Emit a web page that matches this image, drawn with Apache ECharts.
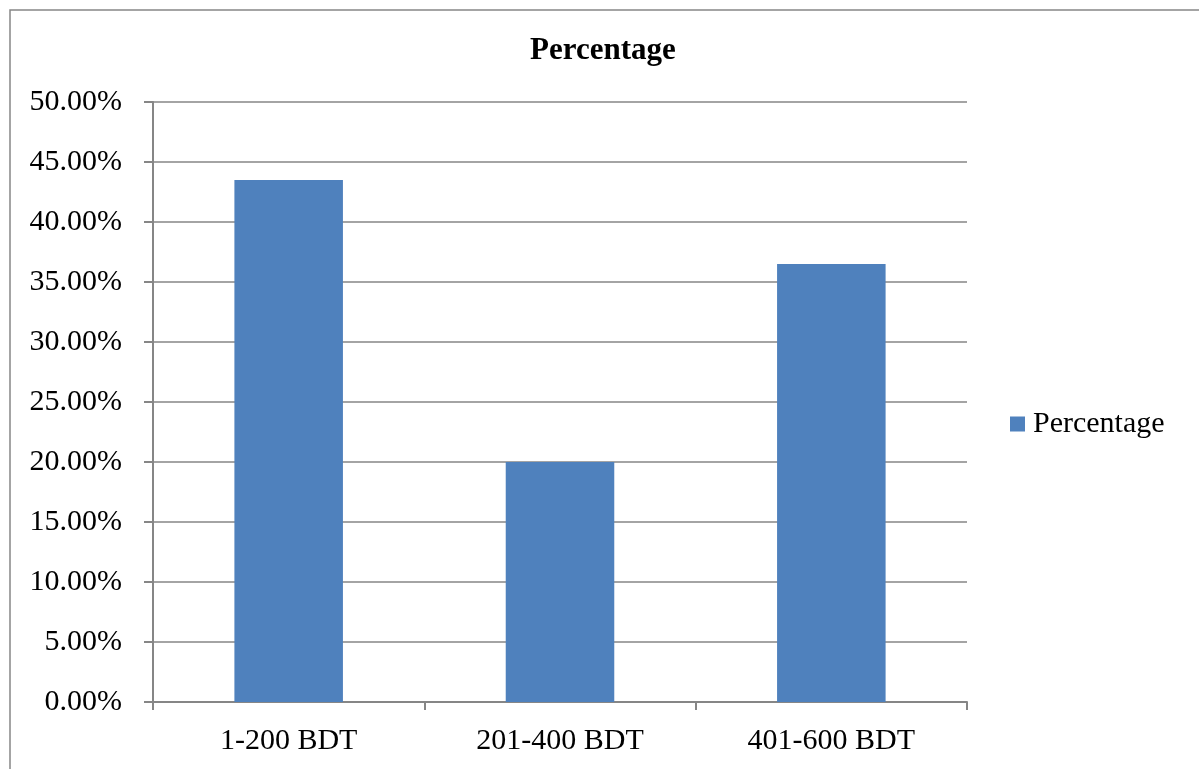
<!DOCTYPE html>
<html>
<head>
<meta charset="utf-8">
<style>
  html, body { margin: 0; padding: 0; background: #fff; }
  #chart { width: 1199px; height: 769px; }
</style>
<script src="https://cdn.jsdelivr.net/npm/echarts@6/dist/echarts.min.js"></script>
</head>
<body>
<div id="chart"></div>
<script>
// Spending bands and the share of respondents in each
const categories = ['1-200 BDT', '201-400 BDT', '401-600 BDT'];
const percentages = [43.5, 20.0, 36.5];
const seriesName = 'Percentage';
const chartTitle = 'Percentage';

const FONT = '"Liberation Serif", "Times New Roman", serif';
const AXIS_GRAY = '#868686';

const chart = echarts.init(document.getElementById('chart'), null, { renderer: 'canvas' });

chart.setOption({
  animation: false,
  backgroundColor: '#ffffff',
  graphic: [{
    type: 'rect',
    shape: { x: 10, y: 10, width: 1200, height: 770 },
    style: { fill: 'none', stroke: AXIS_GRAY, lineWidth: 1.5 },
    silent: true
  }],
  title: {
    text: chartTitle,
    left: 525,
    top: 30,
    textStyle: { fontFamily: FONT, fontSize: 31, fontWeight: 'bold', color: '#000' }
  },
  legend: {
    data: [seriesName],
    left: 1005,
    top: 404,
    itemWidth: 15,
    itemHeight: 15,
    itemGap: 0,
    icon: 'rect',
    textStyle: { fontFamily: FONT, fontSize: 30, color: '#000', padding: [0, 0, 0, 3] }
  },
  grid: {
    left: 153,
    top: 102,
    width: 814,
    height: 600,
    containLabel: false
  },
  xAxis: {
    type: 'category',
    data: categories,
    boundaryGap: true,
    axisLine: { show: true, lineStyle: { color: AXIS_GRAY, width: 2 } },
    axisTick: { show: true, alignWithLabel: false, length: 8, lineStyle: { color: AXIS_GRAY, width: 2 } },
    axisLabel: { fontFamily: FONT, fontSize: 30, color: '#000', margin: 24 }
  },
  yAxis: {
    type: 'value',
    min: 0,
    max: 50,
    interval: 5,
    axisLine: { show: true, lineStyle: { color: AXIS_GRAY, width: 2 } },
    axisTick: { show: true, length: 9, lineStyle: { color: AXIS_GRAY, width: 2 } },
    splitLine: { show: true, lineStyle: { color: AXIS_GRAY, width: 1.5 } },
    axisLabel: {
      fontFamily: FONT, fontSize: 30, color: '#000', margin: 31,
      formatter: v => v.toFixed(2) + '%'
    }
  },
  series: [{
    name: seriesName,
    type: 'bar',
    data: percentages,
    barWidth: '40%',
    itemStyle: { color: '#4F81BD' }
  }]
});
</script>
</body>
</html>
